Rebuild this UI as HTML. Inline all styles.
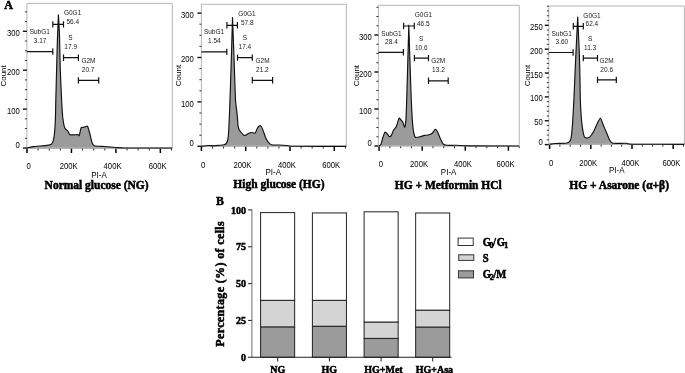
<!DOCTYPE html>
<html><head><meta charset="utf-8"><title>Cell cycle</title><style>
html,body{margin:0;padding:0;background:#fff;}
svg{display:block;will-change:transform;}
text{fill:#000;}
.tt,.bt,.yl,.lg,.pl{stroke:#000;stroke-width:0.5px;}
.tl{font-family:"Liberation Sans", sans-serif;font-size:7.7px;}
.al{font-family:"Liberation Sans", sans-serif;font-size:8px;}
.gl{font-family:"Liberation Sans", sans-serif;font-size:6.5px;fill:#1a1a1a;}
.tt{font-family:"Liberation Serif", serif;font-size:11.5px;font-weight:bold;}
.bt{font-family:"Liberation Serif", serif;font-size:10px;font-weight:bold;}
.yl{font-family:"Liberation Serif", serif;font-size:12px;font-weight:bold;}
.lg{font-family:"Liberation Serif", serif;font-size:10.6px;font-weight:bold;}
.sub{font-size:8px;}
.pl{font-family:"Liberation Serif", serif;font-size:11.5px;font-weight:bold;}
</style></head>
<body><svg width="685" height="373" viewBox="0 0 685 373">
<rect width="685" height="373" fill="#fff"/>
<path d="M26.8 148 C27.42 147.86 30.98 146.86 33 146.6 C35.02 146.34 45.15 145.64 47 145.4 C48.85 145.16 50.82 144.91 51.5 144.2 C52.18 143.49 53.42 140.52 53.8 138.3 C54.18 136.08 55.1 125.83 55.3 122 C55.5 118.17 55.67 105.2 55.8 100 C55.93 94.8 56.44 76 56.6 70 C56.76 64 57.22 45.52 57.4 40 C57.58 34.48 58.3 17.32 58.4 14.8 C58.49 16.32 59.18 27.48 59.3 30 C59.42 32.52 59.5 36 59.6 40 C59.7 44 60.1 64 60.3 70 C60.5 76 61.35 95.23 61.6 100 C61.85 104.77 62.48 114.9 62.8 117.7 C63.12 120.5 64.3 126.67 64.8 128 C65.3 129.33 67.28 130.33 67.8 131 C68.32 131.67 68.97 134.33 70 134.7 C71.03 135.07 77.17 134.63 78.1 134.7 C79.03 134.77 79.01 136.07 79.3 135.4 C79.59 134.73 80.68 128.81 81 128 C81.32 127.19 82.2 127.37 82.5 127.3 C82.8 127.23 83.63 127.4 84 127.3 C84.37 127.2 85.83 126.38 86.2 126.3 C86.57 126.22 87.33 125.73 87.7 126.5 C88.07 127.27 89.46 132.37 89.9 134 C90.34 135.63 91.66 141.63 92.1 142.8 C92.54 143.97 93.05 145.33 94.3 145.7 C95.55 146.07 102.39 146.32 104.6 146.5 C106.81 146.68 114.36 147.35 116.4 147.5 C118.44 147.65 119.42 147.95 125 148 C130.58 148.05 167.48 148 172.2 148 L172.2 148.7 L26.8 148.7Z" fill="#9b9b9b" stroke="none"/>
<path d="M26.9 148V3.4H172.3V148H26.9" fill="none" stroke="#b4b4b4" stroke-width="1"/>
<path d="M26.8 148 C27.42 147.86 30.98 146.86 33 146.6 C35.02 146.34 45.15 145.64 47 145.4 C48.85 145.16 50.82 144.91 51.5 144.2 C52.18 143.49 53.42 140.52 53.8 138.3 C54.18 136.08 55.1 125.83 55.3 122 C55.5 118.17 55.67 105.2 55.8 100 C55.93 94.8 56.44 76 56.6 70 C56.76 64 57.22 45.52 57.4 40 C57.58 34.48 58.3 17.32 58.4 14.8 C58.49 16.32 59.18 27.48 59.3 30 C59.42 32.52 59.5 36 59.6 40 C59.7 44 60.1 64 60.3 70 C60.5 76 61.35 95.23 61.6 100 C61.85 104.77 62.48 114.9 62.8 117.7 C63.12 120.5 64.3 126.67 64.8 128 C65.3 129.33 67.28 130.33 67.8 131 C68.32 131.67 68.97 134.33 70 134.7 C71.03 135.07 77.17 134.63 78.1 134.7 C79.03 134.77 79.01 136.07 79.3 135.4 C79.59 134.73 80.68 128.81 81 128 C81.32 127.19 82.2 127.37 82.5 127.3 C82.8 127.23 83.63 127.4 84 127.3 C84.37 127.2 85.83 126.38 86.2 126.3 C86.57 126.22 87.33 125.73 87.7 126.5 C88.07 127.27 89.46 132.37 89.9 134 C90.34 135.63 91.66 141.63 92.1 142.8 C92.54 143.97 93.05 145.33 94.3 145.7 C95.55 146.07 102.39 146.32 104.6 146.5 C106.81 146.68 114.36 147.35 116.4 147.5 C118.44 147.65 119.42 147.95 125 148 C130.58 148.05 167.48 148 172.2 148" fill="none" stroke="#111" stroke-width="1.15" stroke-linejoin="round"/>
<line x1="22.9" y1="148" x2="26.9" y2="148" stroke="#111" stroke-width="1.4"/>
<line x1="24.9" y1="138.28" x2="26.9" y2="138.28" stroke="#1a1a1a" stroke-width="0.9"/>
<line x1="24.9" y1="128.55" x2="26.9" y2="128.55" stroke="#1a1a1a" stroke-width="0.9"/>
<line x1="24.9" y1="118.83" x2="26.9" y2="118.83" stroke="#1a1a1a" stroke-width="0.9"/>
<line x1="22.9" y1="109.1" x2="26.9" y2="109.1" stroke="#111" stroke-width="1.4"/>
<line x1="24.9" y1="99.38" x2="26.9" y2="99.38" stroke="#1a1a1a" stroke-width="0.9"/>
<line x1="24.9" y1="89.65" x2="26.9" y2="89.65" stroke="#1a1a1a" stroke-width="0.9"/>
<line x1="24.9" y1="79.92" x2="26.9" y2="79.92" stroke="#1a1a1a" stroke-width="0.9"/>
<line x1="22.9" y1="70.2" x2="26.9" y2="70.2" stroke="#111" stroke-width="1.4"/>
<line x1="24.9" y1="60.48" x2="26.9" y2="60.48" stroke="#1a1a1a" stroke-width="0.9"/>
<line x1="24.9" y1="50.75" x2="26.9" y2="50.75" stroke="#1a1a1a" stroke-width="0.9"/>
<line x1="24.9" y1="41.03" x2="26.9" y2="41.03" stroke="#1a1a1a" stroke-width="0.9"/>
<line x1="22.9" y1="31.3" x2="26.9" y2="31.3" stroke="#111" stroke-width="1.4"/>
<line x1="24.9" y1="21.58" x2="26.9" y2="21.58" stroke="#1a1a1a" stroke-width="0.9"/>
<line x1="24.9" y1="11.85" x2="26.9" y2="11.85" stroke="#1a1a1a" stroke-width="0.9"/>
<text transform="translate(19.8 148.1) scale(1 1.15)" text-anchor="end" class="tl">0</text>
<text transform="translate(19.8 113.7) scale(1 1.15)" text-anchor="end" class="tl">100</text>
<text transform="translate(19.8 74.8) scale(1 1.15)" text-anchor="end" class="tl">200</text>
<text transform="translate(19.8 35.9) scale(1 1.15)" text-anchor="end" class="tl">300</text>
<line x1="27" y1="148.7" x2="27" y2="153" stroke="#000" stroke-width="1.5"/>
<line x1="38.11" y1="148.7" x2="38.11" y2="150.5" stroke="#222" stroke-width="1"/>
<line x1="49.23" y1="148.7" x2="49.23" y2="150.5" stroke="#222" stroke-width="1"/>
<line x1="60.34" y1="148.7" x2="60.34" y2="150.5" stroke="#222" stroke-width="1"/>
<line x1="71.45" y1="148.7" x2="71.45" y2="153" stroke="#000" stroke-width="1.5"/>
<line x1="82.56" y1="148.7" x2="82.56" y2="150.5" stroke="#222" stroke-width="1"/>
<line x1="93.68" y1="148.7" x2="93.68" y2="150.5" stroke="#222" stroke-width="1"/>
<line x1="104.79" y1="148.7" x2="104.79" y2="150.5" stroke="#222" stroke-width="1"/>
<line x1="115.9" y1="148.7" x2="115.9" y2="153" stroke="#000" stroke-width="1.5"/>
<line x1="127.01" y1="148.7" x2="127.01" y2="150.5" stroke="#222" stroke-width="1"/>
<line x1="138.12" y1="148.7" x2="138.12" y2="150.5" stroke="#222" stroke-width="1"/>
<line x1="149.24" y1="148.7" x2="149.24" y2="150.5" stroke="#222" stroke-width="1"/>
<line x1="160.35" y1="148.7" x2="160.35" y2="153" stroke="#000" stroke-width="1.5"/>
<line x1="171.46" y1="148.7" x2="171.46" y2="150.5" stroke="#222" stroke-width="1"/>
<text transform="translate(26.6 169.3) scale(1 1.15)" class="tl">0</text>
<text transform="translate(59.7 169.3) scale(1 1.15)" class="tl">200K</text>
<text transform="translate(103.6 169.3) scale(1 1.15)" class="tl">400K</text>
<text transform="translate(148.7 169.3) scale(1 1.15)" class="tl">600K</text>
<text transform="translate(99.05 177.6) scale(1 1.15)" text-anchor="middle" class="al">PI-A</text>
<text transform="translate(6.2 75.9) rotate(-90)" text-anchor="middle" class="al">Count</text>
<text transform="translate(96.6 188.7) scale(1 1.08)" text-anchor="middle" class="tt">Normal glucose (NG)</text>
<path d="M26.9 51.6H52.8M52.8 48.4V54.8" stroke="#111" stroke-width="1.2" fill="none"/>
<text x="39.8" y="34.3" text-anchor="middle" class="gl">SubG1</text>
<text x="40.05" y="42.6" text-anchor="middle" class="gl">3.17</text>
<path d="M52.8 24.4H63.5M52.8 21.2V27.6M63.5 21.2V27.6" stroke="#111" stroke-width="1.2" fill="none"/>
<text x="72.6" y="15.1" text-anchor="middle" class="gl">G0G1</text>
<text x="72.8" y="24" text-anchor="middle" class="gl">56.4</text>
<path d="M63.5 57.7H78.4M63.5 54.5V60.9M78.4 54.5V60.9" stroke="#111" stroke-width="1.2" fill="none"/>
<text x="70.4" y="39.9" text-anchor="middle" class="gl">S</text>
<text x="70.7" y="49.3" text-anchor="middle" class="gl">17.9</text>
<path d="M78.4 80.4H98.7M78.4 77.2V83.6M98.7 77.2V83.6" stroke="#111" stroke-width="1.2" fill="none"/>
<text x="88.5" y="62.8" text-anchor="middle" class="gl">G2M</text>
<text x="88.1" y="71.6" text-anchor="middle" class="gl">20.7</text>
<path d="M201.4 146.3 C202.05 146.22 206.61 145.55 207.9 145.5 C209.19 145.45 213.18 145.82 214.3 145.8 C215.42 145.78 218.13 145.41 219.1 145.3 C220.07 145.19 223.27 144.89 224 144.7 C224.73 144.51 226 144.01 226.4 143.4 C226.8 142.79 227.76 140.05 228 138.6 C228.24 137.15 228.63 131.96 228.8 128.9 C228.97 125.84 229.45 114.89 229.7 108 C229.95 101.11 231.02 69.05 231.3 60 C231.58 50.95 232.38 21.75 232.5 17.5 C232.66 21.75 233.8 51.75 234.1 60 C234.4 68.25 235.21 94.71 235.5 100 C235.79 105.29 236.74 110.33 237 112.9 C237.26 115.47 237.88 124.02 238.1 125.7 C238.32 127.38 238.85 128.97 239.2 129.7 C239.55 130.43 241.12 132.43 241.6 133 C242.08 133.57 243.55 135.2 244 135.4 C244.45 135.6 245.61 135.21 246.1 135 C246.59 134.79 248.38 133.55 248.9 133.3 C249.42 133.05 250.82 132.53 251.3 132.5 C251.78 132.47 253.3 132.95 253.7 133 C254.1 133.05 254.9 133.53 255.3 133 C255.7 132.47 257.17 128.43 257.7 127.7 C258.23 126.97 260.15 125.66 260.6 125.7 C261.05 125.74 261.69 126.89 262.2 128.1 C262.71 129.31 265.1 136.4 265.7 137.8 C266.3 139.2 267.63 141.41 268.2 142.1 C268.77 142.79 270.36 144.41 271.4 144.7 C272.44 144.99 277.08 144.92 278.6 145 C280.12 145.08 284.96 145.37 286.6 145.5 C288.24 145.63 289.03 146.22 295 146.3 C300.97 146.38 341.17 146.3 346.3 146.3 L346.3 146.7 L201.4 146.7Z" fill="#9b9b9b" stroke="none"/>
<path d="M201.4 146V4.3H346.3V146H201.4" fill="none" stroke="#b4b4b4" stroke-width="1"/>
<path d="M201.4 146.3 C202.05 146.22 206.61 145.55 207.9 145.5 C209.19 145.45 213.18 145.82 214.3 145.8 C215.42 145.78 218.13 145.41 219.1 145.3 C220.07 145.19 223.27 144.89 224 144.7 C224.73 144.51 226 144.01 226.4 143.4 C226.8 142.79 227.76 140.05 228 138.6 C228.24 137.15 228.63 131.96 228.8 128.9 C228.97 125.84 229.45 114.89 229.7 108 C229.95 101.11 231.02 69.05 231.3 60 C231.58 50.95 232.38 21.75 232.5 17.5 C232.66 21.75 233.8 51.75 234.1 60 C234.4 68.25 235.21 94.71 235.5 100 C235.79 105.29 236.74 110.33 237 112.9 C237.26 115.47 237.88 124.02 238.1 125.7 C238.32 127.38 238.85 128.97 239.2 129.7 C239.55 130.43 241.12 132.43 241.6 133 C242.08 133.57 243.55 135.2 244 135.4 C244.45 135.6 245.61 135.21 246.1 135 C246.59 134.79 248.38 133.55 248.9 133.3 C249.42 133.05 250.82 132.53 251.3 132.5 C251.78 132.47 253.3 132.95 253.7 133 C254.1 133.05 254.9 133.53 255.3 133 C255.7 132.47 257.17 128.43 257.7 127.7 C258.23 126.97 260.15 125.66 260.6 125.7 C261.05 125.74 261.69 126.89 262.2 128.1 C262.71 129.31 265.1 136.4 265.7 137.8 C266.3 139.2 267.63 141.41 268.2 142.1 C268.77 142.79 270.36 144.41 271.4 144.7 C272.44 144.99 277.08 144.92 278.6 145 C280.12 145.08 284.96 145.37 286.6 145.5 C288.24 145.63 289.03 146.22 295 146.3 C300.97 146.38 341.17 146.3 346.3 146.3" fill="none" stroke="#111" stroke-width="1.15" stroke-linejoin="round"/>
<line x1="197.4" y1="146.3" x2="201.4" y2="146.3" stroke="#111" stroke-width="1.4"/>
<line x1="199.4" y1="135.2" x2="201.4" y2="135.2" stroke="#1a1a1a" stroke-width="0.9"/>
<line x1="199.4" y1="124.1" x2="201.4" y2="124.1" stroke="#1a1a1a" stroke-width="0.9"/>
<line x1="199.4" y1="113" x2="201.4" y2="113" stroke="#1a1a1a" stroke-width="0.9"/>
<line x1="197.4" y1="101.9" x2="201.4" y2="101.9" stroke="#111" stroke-width="1.4"/>
<line x1="199.4" y1="90.8" x2="201.4" y2="90.8" stroke="#1a1a1a" stroke-width="0.9"/>
<line x1="199.4" y1="79.7" x2="201.4" y2="79.7" stroke="#1a1a1a" stroke-width="0.9"/>
<line x1="199.4" y1="68.6" x2="201.4" y2="68.6" stroke="#1a1a1a" stroke-width="0.9"/>
<line x1="197.4" y1="57.5" x2="201.4" y2="57.5" stroke="#111" stroke-width="1.4"/>
<line x1="199.4" y1="46.4" x2="201.4" y2="46.4" stroke="#1a1a1a" stroke-width="0.9"/>
<line x1="199.4" y1="35.3" x2="201.4" y2="35.3" stroke="#1a1a1a" stroke-width="0.9"/>
<line x1="199.4" y1="24.2" x2="201.4" y2="24.2" stroke="#1a1a1a" stroke-width="0.9"/>
<line x1="197.4" y1="13.1" x2="201.4" y2="13.1" stroke="#111" stroke-width="1.4"/>
<text transform="translate(193.9 146.4) scale(1 1.15)" text-anchor="end" class="tl">0</text>
<text transform="translate(193.9 106.5) scale(1 1.15)" text-anchor="end" class="tl">100</text>
<text transform="translate(193.9 62.1) scale(1 1.15)" text-anchor="end" class="tl">200</text>
<text transform="translate(193.9 17.7) scale(1 1.15)" text-anchor="end" class="tl">300</text>
<line x1="201.4" y1="146.7" x2="201.4" y2="151" stroke="#000" stroke-width="1.5"/>
<line x1="212.47" y1="146.7" x2="212.47" y2="148.5" stroke="#222" stroke-width="1"/>
<line x1="223.55" y1="146.7" x2="223.55" y2="148.5" stroke="#222" stroke-width="1"/>
<line x1="234.62" y1="146.7" x2="234.62" y2="148.5" stroke="#222" stroke-width="1"/>
<line x1="245.7" y1="146.7" x2="245.7" y2="151" stroke="#000" stroke-width="1.5"/>
<line x1="256.77" y1="146.7" x2="256.77" y2="148.5" stroke="#222" stroke-width="1"/>
<line x1="267.85" y1="146.7" x2="267.85" y2="148.5" stroke="#222" stroke-width="1"/>
<line x1="278.93" y1="146.7" x2="278.93" y2="148.5" stroke="#222" stroke-width="1"/>
<line x1="290" y1="146.7" x2="290" y2="151" stroke="#000" stroke-width="1.5"/>
<line x1="301.07" y1="146.7" x2="301.07" y2="148.5" stroke="#222" stroke-width="1"/>
<line x1="312.15" y1="146.7" x2="312.15" y2="148.5" stroke="#222" stroke-width="1"/>
<line x1="323.23" y1="146.7" x2="323.23" y2="148.5" stroke="#222" stroke-width="1"/>
<line x1="334.3" y1="146.7" x2="334.3" y2="151" stroke="#000" stroke-width="1.5"/>
<line x1="345.38" y1="146.7" x2="345.38" y2="148.5" stroke="#222" stroke-width="1"/>
<text transform="translate(201.1 167.7) scale(1 1.15)" class="tl">0</text>
<text transform="translate(233.4 167.7) scale(1 1.15)" class="tl">200K</text>
<text transform="translate(278 167.7) scale(1 1.15)" class="tl">400K</text>
<text transform="translate(322.2 167.7) scale(1 1.15)" class="tl">600K</text>
<text transform="translate(273.3 175.2) scale(1 1.15)" text-anchor="middle" class="al">PI-A</text>
<text transform="translate(180.6 75.5) rotate(-90)" text-anchor="middle" class="al">Count</text>
<text transform="translate(278.95 188.3) scale(1 1.08)" text-anchor="middle" class="tt">High glucose (HG)</text>
<path d="M201.4 51.9H226.8M226.8 48.7V55.1" stroke="#111" stroke-width="1.2" fill="none"/>
<text x="214.05" y="34.4" text-anchor="middle" class="gl">SubG1</text>
<text x="214.35" y="42.6" text-anchor="middle" class="gl">1.54</text>
<path d="M226.9 25.3H237.4M226.9 22.1V28.5M237.4 22.1V28.5" stroke="#111" stroke-width="1.2" fill="none"/>
<text x="247" y="16.2" text-anchor="middle" class="gl">G0G1</text>
<text x="247.25" y="25.2" text-anchor="middle" class="gl">57.8</text>
<path d="M237.5 57.6H252.3M237.5 54.4V60.8M252.3 54.4V60.8" stroke="#111" stroke-width="1.2" fill="none"/>
<text x="245" y="40.3" text-anchor="middle" class="gl">S</text>
<text x="244.85" y="49.4" text-anchor="middle" class="gl">17.4</text>
<path d="M252.3 80.3H272.6M252.3 77.1V83.5M272.6 77.1V83.5" stroke="#111" stroke-width="1.2" fill="none"/>
<text x="262.6" y="62.7" text-anchor="middle" class="gl">G2M</text>
<text x="262.35" y="71.8" text-anchor="middle" class="gl">21.2</text>
<path d="M379 145.9 C379.19 145.75 380.52 145.21 380.9 144.4 C381.28 143.59 382.39 139.02 382.8 137.8 C383.21 136.58 384.59 132.63 385 132.2 C385.41 131.77 386.47 133.07 386.9 133.5 C387.33 133.93 388.87 136.29 389.3 136.5 C389.73 136.71 390.78 136.22 391.2 135.6 C391.62 134.98 392.99 131.2 393.5 130.3 C394.01 129.4 395.74 127.82 396.3 126.6 C396.86 125.38 398.63 118.76 399.1 118.1 C399.57 117.44 400.63 119.58 401 120 C401.37 120.42 402.43 121.59 402.8 122.3 C403.17 123.01 404.38 127.52 404.7 127.1 C405.02 126.68 405.77 121.81 406 118.1 C406.23 114.39 406.72 99.29 407 90 C407.28 80.71 408.62 31.68 408.8 25.2 C409.01 31.68 410.56 80.71 410.9 90 C411.24 99.29 411.94 113.97 412.2 118.1 C412.46 122.23 413.18 129.38 413.5 131.3 C413.82 133.22 414.78 136.74 415.4 137.3 C416.02 137.86 418.8 137.09 419.7 136.9 C420.6 136.71 423.55 135.59 424.4 135.4 C425.25 135.21 427.45 135.19 428.2 135 C428.95 134.81 431.19 134.06 431.9 133.5 C432.61 132.94 434.74 129.58 435.3 129.4 C435.86 129.22 436.99 130.76 437.5 131.7 C438.01 132.64 439.83 137.57 440.4 138.8 C440.97 140.03 442.55 143.35 443.2 144 C443.85 144.65 445.59 145.17 446.9 145.3 C448.21 145.43 453.99 145.24 456.3 145.3 C458.61 145.36 463.71 145.83 470 145.9 C476.29 145.97 514.28 145.99 519.2 146 L519.2 146.4 L379 146.4Z" fill="#9b9b9b" stroke="none"/>
<path d="M378.4 145.7V5.3H519.2V145.7H378.4" fill="none" stroke="#b4b4b4" stroke-width="1"/>
<path d="M379 145.9 C379.19 145.75 380.52 145.21 380.9 144.4 C381.28 143.59 382.39 139.02 382.8 137.8 C383.21 136.58 384.59 132.63 385 132.2 C385.41 131.77 386.47 133.07 386.9 133.5 C387.33 133.93 388.87 136.29 389.3 136.5 C389.73 136.71 390.78 136.22 391.2 135.6 C391.62 134.98 392.99 131.2 393.5 130.3 C394.01 129.4 395.74 127.82 396.3 126.6 C396.86 125.38 398.63 118.76 399.1 118.1 C399.57 117.44 400.63 119.58 401 120 C401.37 120.42 402.43 121.59 402.8 122.3 C403.17 123.01 404.38 127.52 404.7 127.1 C405.02 126.68 405.77 121.81 406 118.1 C406.23 114.39 406.72 99.29 407 90 C407.28 80.71 408.62 31.68 408.8 25.2 C409.01 31.68 410.56 80.71 410.9 90 C411.24 99.29 411.94 113.97 412.2 118.1 C412.46 122.23 413.18 129.38 413.5 131.3 C413.82 133.22 414.78 136.74 415.4 137.3 C416.02 137.86 418.8 137.09 419.7 136.9 C420.6 136.71 423.55 135.59 424.4 135.4 C425.25 135.21 427.45 135.19 428.2 135 C428.95 134.81 431.19 134.06 431.9 133.5 C432.61 132.94 434.74 129.58 435.3 129.4 C435.86 129.22 436.99 130.76 437.5 131.7 C438.01 132.64 439.83 137.57 440.4 138.8 C440.97 140.03 442.55 143.35 443.2 144 C443.85 144.65 445.59 145.17 446.9 145.3 C448.21 145.43 453.99 145.24 456.3 145.3 C458.61 145.36 463.71 145.83 470 145.9 C476.29 145.97 514.28 145.99 519.2 146" fill="none" stroke="#111" stroke-width="1.15" stroke-linejoin="round"/>
<line x1="374.4" y1="146" x2="378.4" y2="146" stroke="#111" stroke-width="1.4"/>
<line x1="376.4" y1="136.75" x2="378.4" y2="136.75" stroke="#1a1a1a" stroke-width="0.9"/>
<line x1="376.4" y1="127.5" x2="378.4" y2="127.5" stroke="#1a1a1a" stroke-width="0.9"/>
<line x1="376.4" y1="118.25" x2="378.4" y2="118.25" stroke="#1a1a1a" stroke-width="0.9"/>
<line x1="374.4" y1="109" x2="378.4" y2="109" stroke="#111" stroke-width="1.4"/>
<line x1="376.4" y1="99.75" x2="378.4" y2="99.75" stroke="#1a1a1a" stroke-width="0.9"/>
<line x1="376.4" y1="90.5" x2="378.4" y2="90.5" stroke="#1a1a1a" stroke-width="0.9"/>
<line x1="376.4" y1="81.25" x2="378.4" y2="81.25" stroke="#1a1a1a" stroke-width="0.9"/>
<line x1="374.4" y1="72" x2="378.4" y2="72" stroke="#111" stroke-width="1.4"/>
<line x1="376.4" y1="62.75" x2="378.4" y2="62.75" stroke="#1a1a1a" stroke-width="0.9"/>
<line x1="376.4" y1="53.5" x2="378.4" y2="53.5" stroke="#1a1a1a" stroke-width="0.9"/>
<line x1="376.4" y1="44.25" x2="378.4" y2="44.25" stroke="#1a1a1a" stroke-width="0.9"/>
<line x1="374.4" y1="35" x2="378.4" y2="35" stroke="#111" stroke-width="1.4"/>
<line x1="376.4" y1="25.75" x2="378.4" y2="25.75" stroke="#1a1a1a" stroke-width="0.9"/>
<line x1="376.4" y1="16.5" x2="378.4" y2="16.5" stroke="#1a1a1a" stroke-width="0.9"/>
<line x1="376.4" y1="7.25" x2="378.4" y2="7.25" stroke="#1a1a1a" stroke-width="0.9"/>
<text transform="translate(371.9 146.1) scale(1 1.15)" text-anchor="end" class="tl">0</text>
<text transform="translate(371.9 113.6) scale(1 1.15)" text-anchor="end" class="tl">100</text>
<text transform="translate(371.9 76.6) scale(1 1.15)" text-anchor="end" class="tl">200</text>
<text transform="translate(371.9 39.6) scale(1 1.15)" text-anchor="end" class="tl">300</text>
<line x1="379.1" y1="146.4" x2="379.1" y2="150.7" stroke="#000" stroke-width="1.5"/>
<line x1="389.88" y1="146.4" x2="389.88" y2="148.2" stroke="#222" stroke-width="1"/>
<line x1="400.65" y1="146.4" x2="400.65" y2="148.2" stroke="#222" stroke-width="1"/>
<line x1="411.43" y1="146.4" x2="411.43" y2="148.2" stroke="#222" stroke-width="1"/>
<line x1="422.2" y1="146.4" x2="422.2" y2="150.7" stroke="#000" stroke-width="1.5"/>
<line x1="432.98" y1="146.4" x2="432.98" y2="148.2" stroke="#222" stroke-width="1"/>
<line x1="443.75" y1="146.4" x2="443.75" y2="148.2" stroke="#222" stroke-width="1"/>
<line x1="454.53" y1="146.4" x2="454.53" y2="148.2" stroke="#222" stroke-width="1"/>
<line x1="465.3" y1="146.4" x2="465.3" y2="150.7" stroke="#000" stroke-width="1.5"/>
<line x1="476.08" y1="146.4" x2="476.08" y2="148.2" stroke="#222" stroke-width="1"/>
<line x1="486.85" y1="146.4" x2="486.85" y2="148.2" stroke="#222" stroke-width="1"/>
<line x1="497.62" y1="146.4" x2="497.62" y2="148.2" stroke="#222" stroke-width="1"/>
<line x1="508.4" y1="146.4" x2="508.4" y2="150.7" stroke="#000" stroke-width="1.5"/>
<line x1="519.18" y1="146.4" x2="519.18" y2="148.2" stroke="#222" stroke-width="1"/>
<text transform="translate(378.8 167.3) scale(1 1.15)" class="tl">0</text>
<text transform="translate(410.1 167.3) scale(1 1.15)" class="tl">200K</text>
<text transform="translate(453.9 167.3) scale(1 1.15)" class="tl">400K</text>
<text transform="translate(496.6 167.3) scale(1 1.15)" class="tl">600K</text>
<text transform="translate(448.6 175) scale(1 1.15)" text-anchor="middle" class="al">PI-A</text>
<text transform="translate(359.2 75.6) rotate(-90)" text-anchor="middle" class="al">Count</text>
<text transform="translate(448.25 188.8) scale(1 1.08)" text-anchor="middle" class="tt">HG + Metformin HCl</text>
<path d="M378.4 52.3H403.4M403.4 49.1V55.5" stroke="#111" stroke-width="1.2" fill="none"/>
<text x="391.45" y="35.8" text-anchor="middle" class="gl">SubG1</text>
<text x="391.45" y="44.4" text-anchor="middle" class="gl">28.4</text>
<path d="M403.6 26H414.3M403.6 22.8V29.2M414.3 22.8V29.2" stroke="#111" stroke-width="1.2" fill="none"/>
<text x="423.4" y="17" text-anchor="middle" class="gl">G0G1</text>
<text x="423.25" y="26.1" text-anchor="middle" class="gl">46.5</text>
<path d="M414.4 58.1H428.5M414.4 54.9V61.3M428.5 54.9V61.3" stroke="#111" stroke-width="1.2" fill="none"/>
<text x="421.15" y="41.3" text-anchor="middle" class="gl">S</text>
<text x="421.3" y="50.1" text-anchor="middle" class="gl">10.6</text>
<path d="M428.5 80.8H448.2M428.5 77.6V84M448.2 77.6V84" stroke="#111" stroke-width="1.2" fill="none"/>
<text x="438.2" y="63.3" text-anchor="middle" class="gl">G2M</text>
<text x="438.45" y="72.3" text-anchor="middle" class="gl">13.2</text>
<path d="M549.7 144.2 C550.23 144.13 553.39 143.59 555 143.5 C556.61 143.41 564.4 143.43 565.8 143.3 C567.2 143.17 568.47 142.73 569 142.2 C569.53 141.67 570.74 139.93 571.1 138 C571.46 136.07 572.31 126.98 572.6 122.9 C572.89 118.82 573.7 103.49 574 97.2 C574.3 90.91 575.23 68.01 575.6 60 C575.97 51.99 577.49 21.39 577.7 17.1 C577.87 20.89 579.17 48.71 579.4 55 C579.63 61.29 579.9 75.35 580 80 C580.1 84.65 580.22 97.21 580.4 101.5 C580.58 105.79 581.44 119.47 581.8 122.9 C582.16 126.33 583.57 134.3 584 135.8 C584.43 137.3 585.52 137.79 586.1 137.9 C586.68 138.01 589.05 137.54 589.8 136.9 C590.55 136.26 592.83 132.9 593.6 131.5 C594.37 130.1 596.81 124.23 597.5 122.9 C598.19 121.57 599.92 117.98 600.5 118.2 C601.08 118.42 602.7 123.66 603.3 125.1 C603.9 126.54 605.86 131.1 606.5 132.6 C607.14 134.1 609.05 139.03 609.7 140.1 C610.35 141.17 611.39 142.98 613 143.3 C614.61 143.62 623.87 143.21 625.8 143.3 C627.73 143.39 626.44 144.1 632.3 144.2 C638.16 144.3 679.19 144.29 684.4 144.3 L684.4 144.8 L549.7 144.8Z" fill="#9b9b9b" stroke="none"/>
<path d="M548.8 144.1V6H684.4V144.1H548.8" fill="none" stroke="#b4b4b4" stroke-width="1"/>
<path d="M549.7 144.2 C550.23 144.13 553.39 143.59 555 143.5 C556.61 143.41 564.4 143.43 565.8 143.3 C567.2 143.17 568.47 142.73 569 142.2 C569.53 141.67 570.74 139.93 571.1 138 C571.46 136.07 572.31 126.98 572.6 122.9 C572.89 118.82 573.7 103.49 574 97.2 C574.3 90.91 575.23 68.01 575.6 60 C575.97 51.99 577.49 21.39 577.7 17.1 C577.87 20.89 579.17 48.71 579.4 55 C579.63 61.29 579.9 75.35 580 80 C580.1 84.65 580.22 97.21 580.4 101.5 C580.58 105.79 581.44 119.47 581.8 122.9 C582.16 126.33 583.57 134.3 584 135.8 C584.43 137.3 585.52 137.79 586.1 137.9 C586.68 138.01 589.05 137.54 589.8 136.9 C590.55 136.26 592.83 132.9 593.6 131.5 C594.37 130.1 596.81 124.23 597.5 122.9 C598.19 121.57 599.92 117.98 600.5 118.2 C601.08 118.42 602.7 123.66 603.3 125.1 C603.9 126.54 605.86 131.1 606.5 132.6 C607.14 134.1 609.05 139.03 609.7 140.1 C610.35 141.17 611.39 142.98 613 143.3 C614.61 143.62 623.87 143.21 625.8 143.3 C627.73 143.39 626.44 144.1 632.3 144.2 C638.16 144.3 679.19 144.29 684.4 144.3" fill="none" stroke="#111" stroke-width="1.15" stroke-linejoin="round"/>
<line x1="544.8" y1="144.6" x2="548.8" y2="144.6" stroke="#111" stroke-width="1.4"/>
<line x1="546.8" y1="139.83" x2="548.8" y2="139.83" stroke="#1a1a1a" stroke-width="0.9"/>
<line x1="546.8" y1="135.06" x2="548.8" y2="135.06" stroke="#1a1a1a" stroke-width="0.9"/>
<line x1="546.8" y1="130.28" x2="548.8" y2="130.28" stroke="#1a1a1a" stroke-width="0.9"/>
<line x1="546.8" y1="125.51" x2="548.8" y2="125.51" stroke="#1a1a1a" stroke-width="0.9"/>
<line x1="544.8" y1="120.74" x2="548.8" y2="120.74" stroke="#111" stroke-width="1.4"/>
<line x1="546.8" y1="115.97" x2="548.8" y2="115.97" stroke="#1a1a1a" stroke-width="0.9"/>
<line x1="546.8" y1="111.2" x2="548.8" y2="111.2" stroke="#1a1a1a" stroke-width="0.9"/>
<line x1="546.8" y1="106.42" x2="548.8" y2="106.42" stroke="#1a1a1a" stroke-width="0.9"/>
<line x1="546.8" y1="101.65" x2="548.8" y2="101.65" stroke="#1a1a1a" stroke-width="0.9"/>
<line x1="544.8" y1="96.88" x2="548.8" y2="96.88" stroke="#111" stroke-width="1.4"/>
<line x1="546.8" y1="92.11" x2="548.8" y2="92.11" stroke="#1a1a1a" stroke-width="0.9"/>
<line x1="546.8" y1="87.34" x2="548.8" y2="87.34" stroke="#1a1a1a" stroke-width="0.9"/>
<line x1="546.8" y1="82.56" x2="548.8" y2="82.56" stroke="#1a1a1a" stroke-width="0.9"/>
<line x1="546.8" y1="77.79" x2="548.8" y2="77.79" stroke="#1a1a1a" stroke-width="0.9"/>
<line x1="544.8" y1="73.02" x2="548.8" y2="73.02" stroke="#111" stroke-width="1.4"/>
<line x1="546.8" y1="68.25" x2="548.8" y2="68.25" stroke="#1a1a1a" stroke-width="0.9"/>
<line x1="546.8" y1="63.48" x2="548.8" y2="63.48" stroke="#1a1a1a" stroke-width="0.9"/>
<line x1="546.8" y1="58.7" x2="548.8" y2="58.7" stroke="#1a1a1a" stroke-width="0.9"/>
<line x1="546.8" y1="53.93" x2="548.8" y2="53.93" stroke="#1a1a1a" stroke-width="0.9"/>
<line x1="544.8" y1="49.16" x2="548.8" y2="49.16" stroke="#111" stroke-width="1.4"/>
<line x1="546.8" y1="44.39" x2="548.8" y2="44.39" stroke="#1a1a1a" stroke-width="0.9"/>
<line x1="546.8" y1="39.62" x2="548.8" y2="39.62" stroke="#1a1a1a" stroke-width="0.9"/>
<line x1="546.8" y1="34.84" x2="548.8" y2="34.84" stroke="#1a1a1a" stroke-width="0.9"/>
<line x1="546.8" y1="30.07" x2="548.8" y2="30.07" stroke="#1a1a1a" stroke-width="0.9"/>
<line x1="544.8" y1="25.3" x2="548.8" y2="25.3" stroke="#111" stroke-width="1.4"/>
<line x1="546.8" y1="20.53" x2="548.8" y2="20.53" stroke="#1a1a1a" stroke-width="0.9"/>
<line x1="546.8" y1="15.76" x2="548.8" y2="15.76" stroke="#1a1a1a" stroke-width="0.9"/>
<line x1="546.8" y1="10.98" x2="548.8" y2="10.98" stroke="#1a1a1a" stroke-width="0.9"/>
<line x1="546.8" y1="6.21" x2="548.8" y2="6.21" stroke="#1a1a1a" stroke-width="0.9"/>
<text transform="translate(542.9 144.7) scale(1 1.15)" text-anchor="end" class="tl">0</text>
<text transform="translate(542.9 125.34) scale(1 1.15)" text-anchor="end" class="tl">50</text>
<text transform="translate(542.9 101.48) scale(1 1.15)" text-anchor="end" class="tl">100</text>
<text transform="translate(542.9 77.62) scale(1 1.15)" text-anchor="end" class="tl">150</text>
<text transform="translate(542.9 53.76) scale(1 1.15)" text-anchor="end" class="tl">200</text>
<text transform="translate(542.9 29.9) scale(1 1.15)" text-anchor="end" class="tl">250</text>
<line x1="549.6" y1="144.8" x2="549.6" y2="149.1" stroke="#000" stroke-width="1.5"/>
<line x1="559.9" y1="144.8" x2="559.9" y2="146.6" stroke="#222" stroke-width="1"/>
<line x1="570.2" y1="144.8" x2="570.2" y2="146.6" stroke="#222" stroke-width="1"/>
<line x1="580.5" y1="144.8" x2="580.5" y2="146.6" stroke="#222" stroke-width="1"/>
<line x1="590.8" y1="144.8" x2="590.8" y2="149.1" stroke="#000" stroke-width="1.5"/>
<line x1="601.1" y1="144.8" x2="601.1" y2="146.6" stroke="#222" stroke-width="1"/>
<line x1="611.4" y1="144.8" x2="611.4" y2="146.6" stroke="#222" stroke-width="1"/>
<line x1="621.7" y1="144.8" x2="621.7" y2="146.6" stroke="#222" stroke-width="1"/>
<line x1="632" y1="144.8" x2="632" y2="149.1" stroke="#000" stroke-width="1.5"/>
<line x1="642.3" y1="144.8" x2="642.3" y2="146.6" stroke="#222" stroke-width="1"/>
<line x1="652.6" y1="144.8" x2="652.6" y2="146.6" stroke="#222" stroke-width="1"/>
<line x1="662.9" y1="144.8" x2="662.9" y2="146.6" stroke="#222" stroke-width="1"/>
<line x1="673.2" y1="144.8" x2="673.2" y2="149.1" stroke="#000" stroke-width="1.5"/>
<line x1="683.5" y1="144.8" x2="683.5" y2="146.6" stroke="#222" stroke-width="1"/>
<text transform="translate(548.9 165.6) scale(1 1.15)" class="tl">0</text>
<text transform="translate(579.2 165.6) scale(1 1.15)" class="tl">200K</text>
<text transform="translate(621.5 165.6) scale(1 1.15)" class="tl">400K</text>
<text transform="translate(662.4 165.6) scale(1 1.15)" class="tl">600K</text>
<text transform="translate(616.75 172.8) scale(1 1.15)" text-anchor="middle" class="al">PI-A</text>
<text transform="translate(529.9 75.5) rotate(-90)" text-anchor="middle" class="al">Count</text>
<text transform="translate(619.15 188.8) scale(1 1.08)" text-anchor="middle" class="tt">HG + Asarone (α+β)</text>
<path d="M548.8 52.5H573.1M573.1 49.3V55.7" stroke="#111" stroke-width="1.2" fill="none"/>
<text x="561.65" y="35.9" text-anchor="middle" class="gl">SubG1</text>
<text x="561.85" y="43.7" text-anchor="middle" class="gl">3.60</text>
<path d="M573.3 26.3H583.3M573.3 23.1V29.5M583.3 23.1V29.5" stroke="#111" stroke-width="1.2" fill="none"/>
<text x="592" y="17.6" text-anchor="middle" class="gl">G0G1</text>
<text x="591.9" y="26.2" text-anchor="middle" class="gl">62.4</text>
<path d="M583.3 58.1H597.5M583.3 54.9V61.3M597.5 54.9V61.3" stroke="#111" stroke-width="1.2" fill="none"/>
<text x="590.15" y="41.2" text-anchor="middle" class="gl">S</text>
<text x="590.1" y="50.1" text-anchor="middle" class="gl">11.3</text>
<path d="M597.5 79.9H616.3M597.5 76.7V83.1M616.3 76.7V83.1" stroke="#111" stroke-width="1.2" fill="none"/>
<text x="606.6" y="63.1" text-anchor="middle" class="gl">G2M</text>
<text x="606.7" y="71.8" text-anchor="middle" class="gl">20.6</text>
<rect x="260.6" y="212.6" width="34.05" height="87.81" fill="#fff" stroke="#222" stroke-width="1"/>
<rect x="260.6" y="300.4" width="34.05" height="26.68" fill="#d4d4d4" stroke="#222" stroke-width="1"/>
<rect x="260.6" y="327.09" width="34.05" height="30.21" fill="#9b9b9b" stroke="#222" stroke-width="1"/>
<line x1="277.62" y1="357.3" x2="277.62" y2="361.6" stroke="#333" stroke-width="1.1"/>
<text transform="translate(277.7 372.6) scale(1 1.08)" text-anchor="middle" class="bt">NG</text>
<rect x="312.4" y="212.94" width="34.05" height="87.47" fill="#fff" stroke="#222" stroke-width="1"/>
<rect x="312.4" y="300.4" width="34.05" height="25.95" fill="#d4d4d4" stroke="#222" stroke-width="1"/>
<rect x="312.4" y="326.35" width="34.05" height="30.95" fill="#9b9b9b" stroke="#222" stroke-width="1"/>
<line x1="329.42" y1="357.3" x2="329.42" y2="361.6" stroke="#333" stroke-width="1.1"/>
<text transform="translate(329.25 372.6) scale(1 1.08)" text-anchor="middle" class="bt">HG</text>
<rect x="364.1" y="211.82" width="34.05" height="110.4" fill="#fff" stroke="#222" stroke-width="1"/>
<rect x="364.1" y="322.22" width="34.05" height="16.22" fill="#d4d4d4" stroke="#222" stroke-width="1"/>
<rect x="364.1" y="338.44" width="34.05" height="18.86" fill="#9b9b9b" stroke="#222" stroke-width="1"/>
<line x1="381.12" y1="357.3" x2="381.12" y2="361.6" stroke="#333" stroke-width="1.1"/>
<text transform="translate(383.5 372.6) scale(1 1.08)" text-anchor="middle" class="bt">HG+Met</text>
<rect x="415.65" y="213" width="34.05" height="97.28" fill="#fff" stroke="#222" stroke-width="1"/>
<rect x="415.65" y="310.28" width="34.05" height="16.96" fill="#d4d4d4" stroke="#222" stroke-width="1"/>
<rect x="415.65" y="327.24" width="34.05" height="30.06" fill="#9b9b9b" stroke="#222" stroke-width="1"/>
<line x1="432.67" y1="357.3" x2="432.67" y2="361.6" stroke="#333" stroke-width="1.1"/>
<text transform="translate(434.45 372.6) scale(1 1.08)" text-anchor="middle" class="bt">HG+Asa</text>
<line x1="251.9" y1="209.4" x2="251.9" y2="357.3" stroke="#7a7a7a" stroke-width="1.1"/>
<line x1="247.9" y1="357.3" x2="451.6" y2="357.3" stroke="#222" stroke-width="1.1"/>
<text transform="translate(246 360.9) scale(1 1.08)" text-anchor="end" class="bt">0</text>
<line x1="248.1" y1="320.45" x2="251.9" y2="320.45" stroke="#333" stroke-width="1.1"/>
<text transform="translate(246 324.05) scale(1 1.08)" text-anchor="end" class="bt">25</text>
<line x1="248.1" y1="283.6" x2="251.9" y2="283.6" stroke="#333" stroke-width="1.1"/>
<text transform="translate(246 287.2) scale(1 1.08)" text-anchor="end" class="bt">50</text>
<line x1="248.1" y1="246.75" x2="251.9" y2="246.75" stroke="#333" stroke-width="1.1"/>
<text transform="translate(246 250.35) scale(1 1.08)" text-anchor="end" class="bt">75</text>
<line x1="248.1" y1="209.9" x2="251.9" y2="209.9" stroke="#333" stroke-width="1.1"/>
<text transform="translate(246 213.5) scale(1 1.08)" text-anchor="end" class="bt">100</text>
<text transform="translate(224.1 284) rotate(-90)" text-anchor="middle" class="yl" textLength="125.5" lengthAdjust="spacing">Percentage (%) of cells</text>
<rect x="458.1" y="238.1" width="15.1" height="7.4" fill="#fff" stroke="#333" stroke-width="1"/>
<text transform="translate(0 245.6) scale(1 1.08)" class="lg"><tspan x="482.8">G</tspan><tspan class="sub" x="489.5" dy="2">0</tspan><tspan x="492.9" dy="-2">/</tspan><tspan x="496.8">G</tspan><tspan class="sub" x="504.3" dy="2">1</tspan></text>
<rect x="458.7" y="254.8" width="15.1" height="5.6" fill="#d4d4d4" stroke="#333" stroke-width="1"/>
<text transform="translate(0 261.8) scale(1 1.08)" class="lg"><tspan x="482.8">S</tspan></text>
<rect x="458.4" y="270.8" width="15.1" height="7.1" fill="#9b9b9b" stroke="#333" stroke-width="1"/>
<text transform="translate(0 278) scale(1 1.08)" class="lg"><tspan x="482.8">G</tspan><tspan class="sub" x="489.7" dy="2">2</tspan><tspan x="493.4" dy="-2">/</tspan><tspan x="496.3">M</tspan></text>
<text transform="translate(4.3 9.0) scale(1.05 1.17)" class="pl">A</text>
<text transform="translate(215.9 204.7) scale(1.03 1.12)" class="pl">B</text>
</svg></body></html>
